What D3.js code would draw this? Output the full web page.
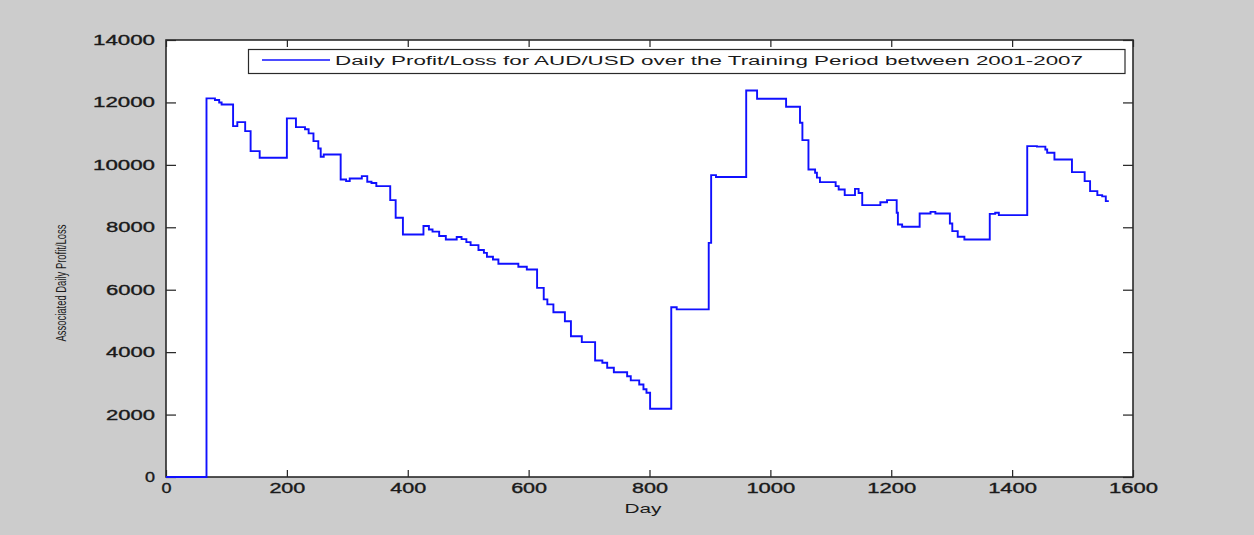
<!DOCTYPE html>
<html>
<head>
<meta charset="utf-8">
<script src="https://cdn.jsdelivr.net/npm/d3@7"></script>
<style>
  html, body { margin: 0; padding: 0; background: #cccccc; }
  svg { display: block; }
  text { font-family: "Liberation Sans", Arial, sans-serif; fill: #1a1a1a; }
</style>
</head>
<body>
<svg id="chart" width="1254" height="535"></svg>
<script>
// Step points: day at which the cumulative P/L changes, and the new level
const days = [0, 67, 81, 88, 92, 111, 118, 131, 140, 155, 200, 215, 230, 236, 244, 252, 256, 261,
  289, 298, 304, 324, 333, 340, 348, 371, 380, 392, 426, 435, 441, 452, 463, 481, 489, 497, 504,
  517, 526, 531, 541, 550, 583, 597, 614, 625, 631, 641, 660, 670, 688, 710, 722, 730, 741, 763,
  769, 783, 790, 795, 801, 836, 845, 898, 902, 910, 960, 978, 1026, 1049, 1053, 1063, 1074, 1077,
  1082, 1108, 1113, 1123, 1140, 1146, 1152, 1182, 1193, 1209, 1211, 1218, 1247, 1265, 1273, 1297,
  1301, 1310, 1321, 1363, 1372, 1378, 1425, 1441, 1455, 1458, 1470, 1499, 1520, 1529, 1541, 1549,
  1555, 1560];
const pnl = [0, 12130, 12080, 12000, 11935, 11240, 11370, 11080, 10440, 10230, 11490, 11210, 11140,
  11010, 10760, 10525, 10260, 10330, 9530, 9480, 9565, 9640, 9460, 9420, 9320, 8870, 8305, 7770,
  8040, 7930, 7860, 7720, 7610, 7690, 7620, 7524, 7430, 7270, 7180, 7055, 6970, 6830, 6735, 6650,
  6060, 5690, 5530, 5280, 4990, 4510, 4320, 3730, 3660, 3500, 3355, 3230, 3095, 2965, 2810, 2700,
  2185, 5440, 5370, 7500, 9670, 9610, 12384, 12118, 11862, 11349, 10793, 9853, 9747, 9590, 9447,
  9320, 9212, 9030, 9230, 9100, 8710, 8800, 8870, 8466, 8090, 8017, 8443, 8495, 8443, 8122, 7876,
  7696, 7610, 8430, 8466, 8390, 10600, 10585, 10494, 10388, 10173, 9767, 9478, 9158, 9030, 8990,
  8837, 8837];

const xTicks = [0, 200, 400, 600, 800, 1000, 1200, 1400, 1600];
const yTicks = [0, 2000, 4000, 6000, 8000, 10000, 12000, 14000];

const seriesLabel = "Daily Profit/Loss for AUD/USD over the Training Period between 2001-2007";
const xLabel = "Day";
const yLabel = "Associated Daily Profit/Loss";

const svg = d3.select("#chart");
const margin = { left: 166, right: 1254 - 1133, top: 40, bottom: 535 - 477 };
const W = 1254 - margin.left - margin.right;
const H = 535 - margin.top - margin.bottom;

const x = d3.scaleLinear().domain([0, 1600]).range([0, W]);
const y = d3.scaleLinear().domain([0, 14000]).range([H, 0]);

const g = svg.append("g").attr("transform", `translate(${margin.left},${margin.top})`);

// plotting area
g.append("rect").attr("width", W).attr("height", H).attr("fill", "#ffffff");

// stretched tick labels: width grows with the digit count
const labelWidth = s => 13 * String(s).length - 3;
const fmt = d3.format("d");

const styleAxis = sel => {
  sel.select(".domain").remove();
  sel.selectAll(".tick line").attr("stroke", "#222").attr("stroke-width", 1.2);
  sel.selectAll(".tick text")
    .attr("font-size", 14)
    .attr("fill", "#1a1a1a")
    .attr("stroke", "#1a1a1a")
    .attr("stroke-width", 0.35)
    .attr("textLength", d => labelWidth(fmt(d)))
    .attr("lengthAdjust", "spacingAndGlyphs");
};

g.append("g").attr("transform", `translate(0,${H})`)
  .call(d3.axisBottom(x).tickValues(xTicks).tickFormat(fmt).tickSizeInner(-7).tickSizeOuter(0).tickPadding(6))
  .call(styleAxis);

g.append("g")
  .call(d3.axisLeft(y).tickValues(yTicks).tickFormat(fmt).tickSizeInner(-10).tickSizeOuter(0).tickPadding(11))
  .call(styleAxis);

g.append("g").attr("transform", `translate(${W},0)`)
  .call(d3.axisRight(y).tickValues(yTicks).tickFormat("").tickSizeInner(-10).tickSizeOuter(0))
  .call(styleAxis);

g.append("g")
  .call(d3.axisTop(x).tickValues(xTicks).tickFormat("").tickSizeInner(-7).tickSizeOuter(0))
  .call(styleAxis);

// box around the axes
g.append("rect").attr("width", W).attr("height", H)
  .attr("fill", "none").attr("stroke", "#2a2a2a").attr("stroke-width", 1.6);

// P/L step line
const series = days.map((d, i) => ({ day: d, value: pnl[i] }));
const line = d3.line().x(d => x(d.day)).y(d => y(d.value)).curve(d3.curveStepAfter);
g.append("path").datum(series)
  .attr("d", line)
  .attr("fill", "none")
  .attr("stroke", "#1010ff")
  .attr("stroke-width", 1.9)
  .attr("stroke-linejoin", "miter");

// legend
const leg = svg.append("g");
leg.append("rect")
  .attr("x", 248.5).attr("y", 49.5).attr("width", 876.5).attr("height", 24)
  .attr("fill", "#ffffff").attr("stroke", "#2a2a2a").attr("stroke-width", 1.2);
leg.append("line")
  .attr("x1", 262).attr("x2", 330).attr("y1", 60).attr("y2", 60)
  .attr("stroke", "#1010ff").attr("stroke-width", 1.3);
leg.append("text")
  .attr("x", 335).attr("y", 65)
  .attr("font-size", 12)
  .attr("textLength", 748).attr("lengthAdjust", "spacingAndGlyphs")
  .text(seriesLabel);

// axis titles
svg.append("text")
  .attr("x", 643).attr("y", 513)
  .attr("text-anchor", "middle")
  .attr("font-size", 13.5)
  .attr("textLength", 37).attr("lengthAdjust", "spacingAndGlyphs")
  .text(xLabel);

svg.append("text")
  .attr("transform", "translate(66,283) rotate(-90)")
  .attr("text-anchor", "middle")
  .attr("font-size", 14)
  .attr("textLength", 117).attr("lengthAdjust", "spacingAndGlyphs")
  .text(yLabel);
</script>
</body>
</html>
